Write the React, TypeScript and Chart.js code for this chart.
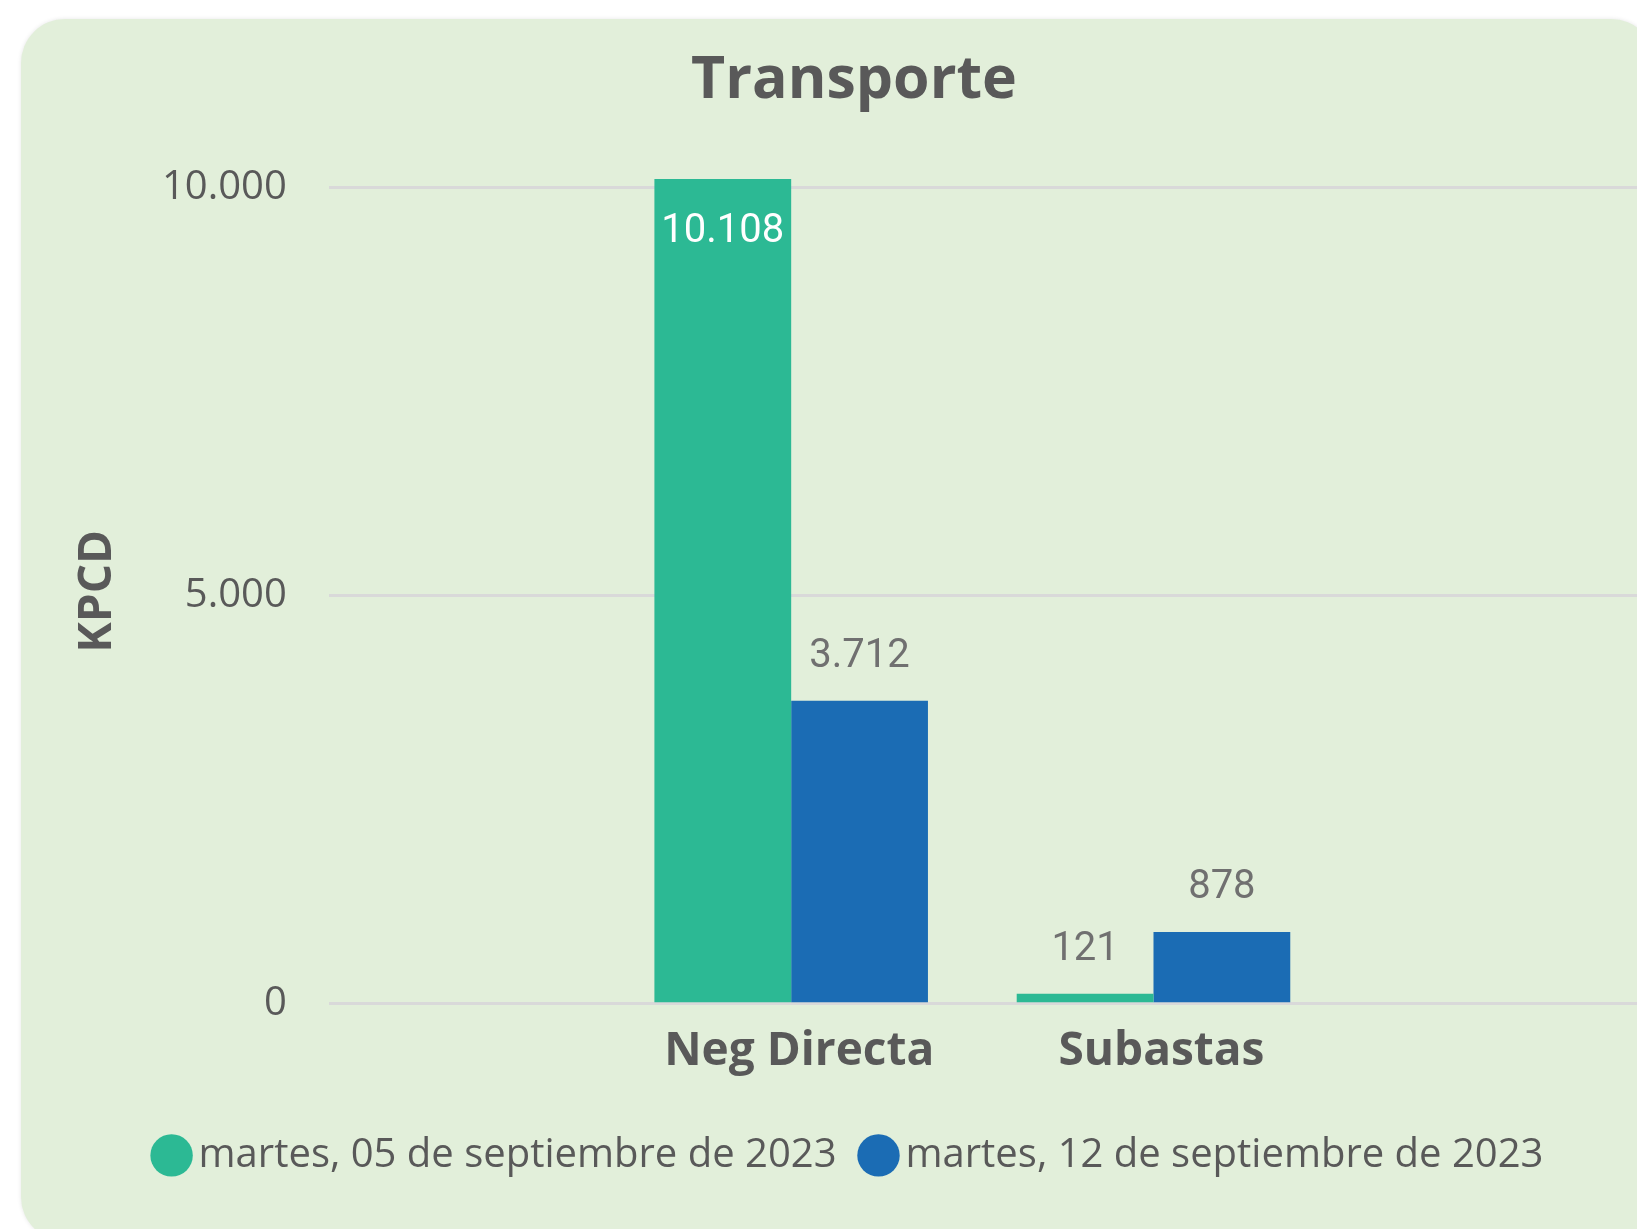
import React, { useEffect, useRef } from 'react';
import { Chart, registerables } from 'chart.js';

Chart.register(...registerables);

// ---- data ----
const categories = ['Neg Directa', 'Subastas'];
const categoryPositions = [1, 2];
const seriesLabels = ['martes, 05 de septiembre de 2023', 'martes, 12 de septiembre de 2023'];
const series05 = [10108, 121];
const series12 = [3712, 878];
const yTickValues = [0, 5000, 10000];
const seriesColors = ['#2cb994', '#1b6cb4'];

const W = 1666;
const H = 1220;

function fmt(v: number): string {
  return String(Math.round(v)).replace(/\B(?=(\d{3})+(?!\d))/g, '.');
}

const dataLabelPlugin = {
  id: 'dataLabels',
  afterDatasetsDraw(chart: any) {
    const ctx = chart.ctx;
    ctx.save();
    ctx.font = '40px Roboto';
    ctx.textAlign = 'center';
    ctx.textBaseline = 'middle';
    chart.data.datasets.forEach((ds: any, di: number) => {
      const meta = chart.getDatasetMeta(di);
      meta.data.forEach((bar: any, i: number) => {
        const v = ds.data[i].y;
        const text = fmt(v);
        const above = bar.y - 44;
        if (above - 22 < chart.chartArea.top) {
          ctx.fillStyle = '#ffffff';
          ctx.fillText(text, bar.x, bar.y + 53);
        } else {
          ctx.fillStyle = '#707070';
          ctx.fillText(text, bar.x, above);
        }
      });
    });
    ctx.restore();
  },
};

export default function App() {
  const ref = useRef<HTMLCanvasElement | null>(null);

  useEffect(() => {
    if (!ref.current) return;
    const maxVal = Math.max(...series05, ...series12);
    const mk = (vals: number[]) => categoryPositions.map((x, i) => ({ x, y: vals[i] }));
    const chart = new Chart(ref.current, {
      type: 'bar',
      data: {
        datasets: [
          {
            label: seriesLabels[0],
            data: mk(series05),
            backgroundColor: seriesColors[0],
            borderWidth: 0,
            categoryPercentage: 0.755,
            barPercentage: 1,
          },
          {
            label: seriesLabels[1],
            data: mk(series12),
            backgroundColor: seriesColors[1],
            borderWidth: 0,
            categoryPercentage: 0.755,
            barPercentage: 1,
          },
        ],
      } as any,
      options: {
        responsive: false,
        animation: false,
        devicePixelRatio: 1,
        layout: { padding: { left: 0, right: 0, top: 0, bottom: 53.6 } },
        plugins: {
          title: {
            display: true,
            text: 'Transporte',
            color: '#595959',
            font: { family: 'Open Sans', size: 59, weight: 'bold' },
            padding: { top: 27, bottom: 62.2 },
          },
          legend: {
            position: 'bottom',
            labels: {
              usePointStyle: true,
              pointStyle: 'circle',
              boxWidth: 14,
              boxHeight: 30,
              padding: 35,
              color: '#595959',
              font: { family: 'Open Sans', size: 40 },
            },
          },
          tooltip: { enabled: false },
        },
        scales: {
          x: {
            type: 'linear',
            bounds: 'data',
            offset: false,
            min: -0.276,
            max: 3.4725,
            grid: { display: false },
            border: { display: false },
            afterBuildTicks: (s: any) => {
              s.ticks = categoryPositions.map((v) => ({ value: v }));
            },
            afterFit: (s: any) => {
              s.height += 8.5;
            },
            ticks: {
              autoSkip: false,
              maxRotation: 0,
              padding: 12.5,
              labelOffset: 8,
              color: '#595959',
              font: { family: 'Open Sans', size: 46, weight: 'bold' },
              callback: (v: any) => {
                const idx = categoryPositions.indexOf(Number(v));
                return idx >= 0 ? categories[idx] : '';
              },
            },
          },
          y: {
            bounds: 'data',
            min: 0,
            max: maxVal,
            afterBuildTicks: (s: any) => {
              s.ticks = yTickValues.map((v) => ({ value: v }));
            },
            grid: { color: '#d9d9d9', lineWidth: 3, drawTicks: false },
            border: { display: false },
            ticks: {
              padding: 42,
              color: '#595959',
              font: { family: 'Open Sans', size: 40 },
              callback: (v: any) => fmt(Number(v)),
            },
            title: {
              display: true,
              text: 'KPCD',
              color: '#595959',
              font: { family: 'Open Sans', size: 46, weight: 'bold', lineHeight: 1 },
              padding: { top: 54, bottom: -1 },
            },
          },
        },
      } as any,
      plugins: [dataLabelPlugin],
    });
    return () => chart.destroy();
  }, []);

  return (
    <div
      style={{
        position: 'absolute',
        left: 0,
        top: 0,
        width: 1637,
        height: 1229,
        overflow: 'hidden',
        background: '#ffffff',
      }}
    >
      <div
        style={{
          position: 'absolute',
          left: 21,
          top: 19,
          width: 1634,
          height: 1222,
          borderRadius: 44,
          background: '#e2efda',
          boxShadow: '0 0 4px rgba(0,0,0,0.10)',
          overflow: 'hidden',
        }}
      >
        <canvas
          ref={ref}
          width={W}
          height={H}
          style={{ position: 'absolute', left: 0, top: 0, width: W, height: H }}
        />
      </div>
    </div>
  );
}
